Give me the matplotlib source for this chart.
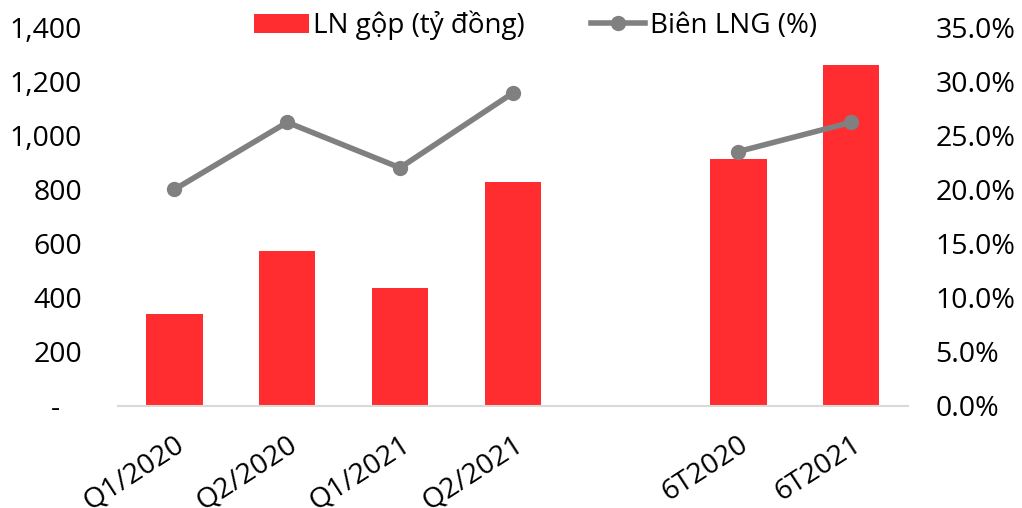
import matplotlib.pyplot as plt
import matplotlib.ticker as mticker
import numpy as np

plt.rcParams["font.family"] = ["Open Sans", "DejaVu Sans"]

categories = ["Q1/2020", "Q2/2020", "Q1/2021", "Q2/2021", "", "6T2020", "6T2021"]
gross_profit = [340, 573, 436, 827, np.nan, 912, 1260]
margin = [20.0, 26.2, 22.0, 28.9, np.nan, 23.5, 26.2]

bar_color = "#FF2D2F"
line_color = "#808080"

fig = plt.figure(figsize=(10.22, 5.08), dpi=100)
ax = fig.add_axes([0.1155, 0.2008, 0.7725, 0.7460])
ax2 = ax.twinx()

x = np.arange(len(categories))
bars = ax.bar(x, gross_profit, width=0.5, color=bar_color, label="LN gộp (tỷ đồng)", zorder=2)
line, = ax2.plot(x, margin, color=line_color, lw=4, marker="o", ms=10,
                 label="Biên LNG (%)", zorder=3)

ax.set_xlim(-0.5, len(categories) - 0.5)
ax.set_ylim(0, 1400)
ax.set_yticks(np.arange(0, 1401, 200))
ax.yaxis.set_major_formatter(mticker.FuncFormatter(lambda v, p: "-   " if v == 0 else f"{v:,.0f}"))
ax2.set_ylim(0, 35)
ax2.set_yticks(np.arange(0, 35.1, 5))
ax2.yaxis.set_major_formatter(mticker.FuncFormatter(lambda v, p: f"{v:.1f}%"))

ax.set_xticks(x)
ax.set_xticklabels(categories, rotation=33, ha="right", va="top", rotation_mode="anchor")

for a in (ax, ax2):
    for s in a.spines.values():
        s.set_visible(False)
    a.tick_params(length=0, labelsize=20.5)
ax.spines["bottom"].set_visible(True)
ax.spines["bottom"].set_color("#D9D9D9")
ax.spines["bottom"].set_linewidth(1.5)
ax.tick_params(axis="x", pad=18)
ax.tick_params(axis="y", pad=26)
ax2.tick_params(axis="y", pad=20)

fig.legend([bars, line], ["LN gộp (tỷ đồng)", "Biên LNG (%)"], loc="center",
           bbox_to_anchor=(0.524, 0.95), ncol=2, frameon=False, fontsize=20,
           handlelength=1.95, handletextpad=0.15, columnspacing=2.4)

fig.savefig("out.png", dpi=100)
